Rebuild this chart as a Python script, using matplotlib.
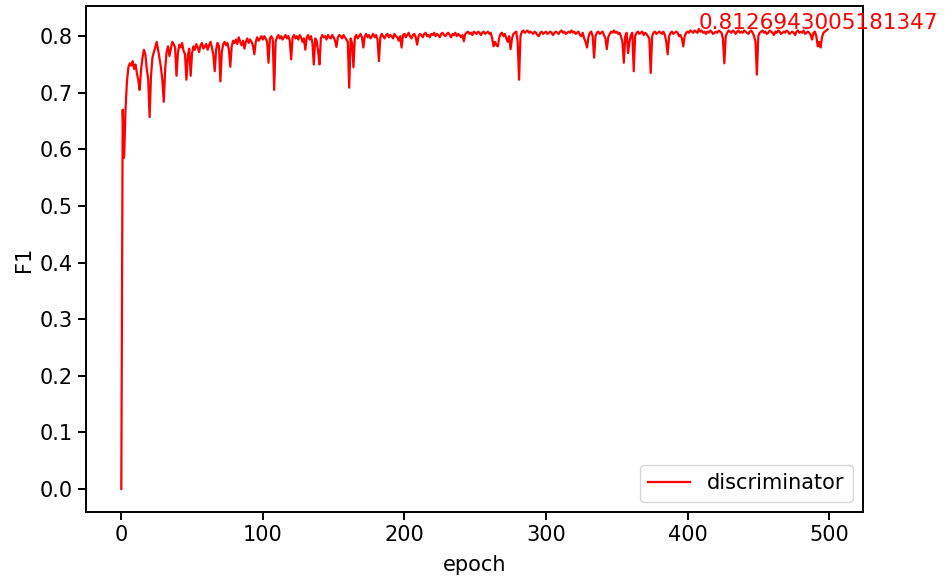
import matplotlib
matplotlib.use("Agg")
import matplotlib.pyplot as plt
import numpy as np

# F1 per epoch (epochs 0..499)
f1 = [
    0.0, 0.670, 0.585, 0.672, 0.720, 0.745, 0.752, 0.748, 0.756, 0.742, 0.750, 0.735, 0.722, 0.705, 0.742, 0.762, 0.776, 0.768, 0.742, 0.724,
    0.657, 0.730, 0.762, 0.772, 0.780, 0.790, 0.776, 0.760, 0.745, 0.722, 0.684, 0.742, 0.772, 0.782, 0.765, 0.778, 0.790, 0.786, 0.780, 0.730,
    0.770, 0.785, 0.780, 0.788, 0.774, 0.768, 0.723, 0.765, 0.778, 0.730, 0.770, 0.782, 0.776, 0.786, 0.780, 0.772, 0.784, 0.788, 0.778, 0.782,
    0.786, 0.776, 0.784, 0.790, 0.780, 0.768, 0.738, 0.776, 0.788, 0.782, 0.720, 0.772, 0.786, 0.790, 0.784, 0.788, 0.776, 0.746, 0.782, 0.792,
    0.788, 0.794, 0.786, 0.798, 0.790, 0.784, 0.792, 0.778, 0.790, 0.796, 0.788, 0.794, 0.790, 0.784, 0.768, 0.790, 0.798, 0.792, 0.796, 0.800,
    0.794, 0.800, 0.796, 0.790, 0.753, 0.796, 0.800, 0.794, 0.705, 0.790, 0.798, 0.802, 0.796, 0.800, 0.794, 0.798, 0.802, 0.796, 0.800, 0.792,
    0.759, 0.798, 0.802, 0.796, 0.800, 0.794, 0.802, 0.798, 0.790, 0.796, 0.776, 0.798, 0.802, 0.794, 0.800, 0.788, 0.750, 0.796, 0.792, 0.774,
    0.750, 0.796, 0.802, 0.798, 0.800, 0.794, 0.802, 0.798, 0.796, 0.802, 0.798, 0.792, 0.781, 0.798, 0.802, 0.800, 0.796, 0.802, 0.798, 0.794,
    0.790, 0.709, 0.796, 0.788, 0.745, 0.798, 0.802, 0.796, 0.800, 0.804, 0.798, 0.780, 0.800, 0.804, 0.798, 0.802, 0.796, 0.800, 0.804, 0.798,
    0.802, 0.794, 0.756, 0.798, 0.804, 0.800, 0.796, 0.802, 0.804, 0.798, 0.802, 0.800, 0.796, 0.804, 0.800, 0.798, 0.792, 0.800, 0.780, 0.802,
    0.804, 0.798, 0.802, 0.806, 0.800, 0.796, 0.802, 0.804, 0.798, 0.785, 0.800, 0.804, 0.802, 0.798, 0.804, 0.806, 0.800, 0.802, 0.798, 0.804,
    0.802, 0.806, 0.800, 0.804, 0.802, 0.798, 0.804, 0.806, 0.802, 0.800, 0.804, 0.806, 0.802, 0.798, 0.804, 0.802, 0.806, 0.800, 0.804, 0.802,
    0.798, 0.802, 0.791, 0.804, 0.806, 0.808, 0.804, 0.806, 0.802, 0.808, 0.806, 0.804, 0.808, 0.806, 0.802, 0.806, 0.808, 0.804, 0.806, 0.808,
    0.804, 0.806, 0.796, 0.782, 0.790, 0.784, 0.782, 0.798, 0.804, 0.806, 0.800, 0.804, 0.796, 0.790, 0.800, 0.777, 0.796, 0.804, 0.806, 0.808,
    0.790, 0.723, 0.800, 0.808, 0.810, 0.806, 0.808, 0.810, 0.806, 0.808, 0.806, 0.804, 0.808, 0.806, 0.802, 0.800, 0.806, 0.808, 0.804, 0.806,
    0.808, 0.804, 0.806, 0.808, 0.806, 0.802, 0.806, 0.808, 0.806, 0.804, 0.808, 0.810, 0.806, 0.808, 0.804, 0.806, 0.808, 0.806, 0.810, 0.806,
    0.808, 0.804, 0.806, 0.808, 0.802, 0.800, 0.806, 0.796, 0.790, 0.780, 0.798, 0.806, 0.808, 0.800, 0.762, 0.800, 0.806, 0.808, 0.804, 0.806,
    0.808, 0.802, 0.796, 0.777, 0.798, 0.804, 0.808, 0.806, 0.810, 0.806, 0.808, 0.804, 0.806, 0.800, 0.790, 0.753, 0.800, 0.806, 0.770, 0.790,
    0.802, 0.806, 0.738, 0.800, 0.806, 0.808, 0.804, 0.806, 0.808, 0.802, 0.806, 0.804, 0.800, 0.796, 0.735, 0.800, 0.806, 0.808, 0.804, 0.806,
    0.808, 0.806, 0.804, 0.808, 0.802, 0.790, 0.768, 0.800, 0.806, 0.808, 0.804, 0.806, 0.808, 0.806, 0.800, 0.802, 0.796, 0.782, 0.800, 0.806,
    0.808, 0.806, 0.810, 0.808, 0.806, 0.810, 0.808, 0.806, 0.8126943005181347, 0.808, 0.810, 0.806, 0.808, 0.804, 0.808, 0.806, 0.810, 0.808, 0.804, 0.806,
    0.808, 0.806, 0.810, 0.808, 0.806, 0.796, 0.752, 0.800, 0.806, 0.810, 0.808, 0.806, 0.810, 0.808, 0.804, 0.808, 0.810, 0.806, 0.808, 0.806,
    0.810, 0.808, 0.806, 0.804, 0.808, 0.810, 0.806, 0.800, 0.790, 0.732, 0.800, 0.806, 0.808, 0.810, 0.806, 0.808, 0.804, 0.806, 0.810, 0.808,
    0.806, 0.802, 0.808, 0.806, 0.810, 0.808, 0.804, 0.806, 0.808, 0.806, 0.810, 0.808, 0.804, 0.806, 0.808, 0.806, 0.802, 0.808, 0.810, 0.806,
    0.808, 0.806, 0.810, 0.804, 0.806, 0.808, 0.806, 0.802, 0.794, 0.806, 0.808, 0.800, 0.782, 0.790, 0.780, 0.798, 0.806, 0.808, 0.810, 0.812,
]
epochs = list(range(len(f1)))

plt.rcParams['font.family'] = ['DejaVu Sans']
plt.rcParams['font.size'] = 15

fig, ax = plt.subplots(figsize=(9.5, 5.81), dpi=100)
fig.subplots_adjust(left=0.0905, right=0.9084, top=0.9897, bottom=0.1188)

ax.plot(epochs, f1, color='red', lw=1.6, label='discriminator')

# annotate best score
best = int(np.argmax(f1))
ax.text(epochs[best], f1[best], str(f1[best]), color='red', fontsize=15.5)

ax.set_xlabel('epoch', labelpad=7)
ax.set_ylabel('F1')
ax.set_yticks(np.arange(0, 0.81, 0.1))
ax.tick_params(length=6, width=1.4)
for s in ax.spines.values():
    s.set_linewidth(1.4)
ax.legend(loc='lower right')

plt.savefig('out.png')
